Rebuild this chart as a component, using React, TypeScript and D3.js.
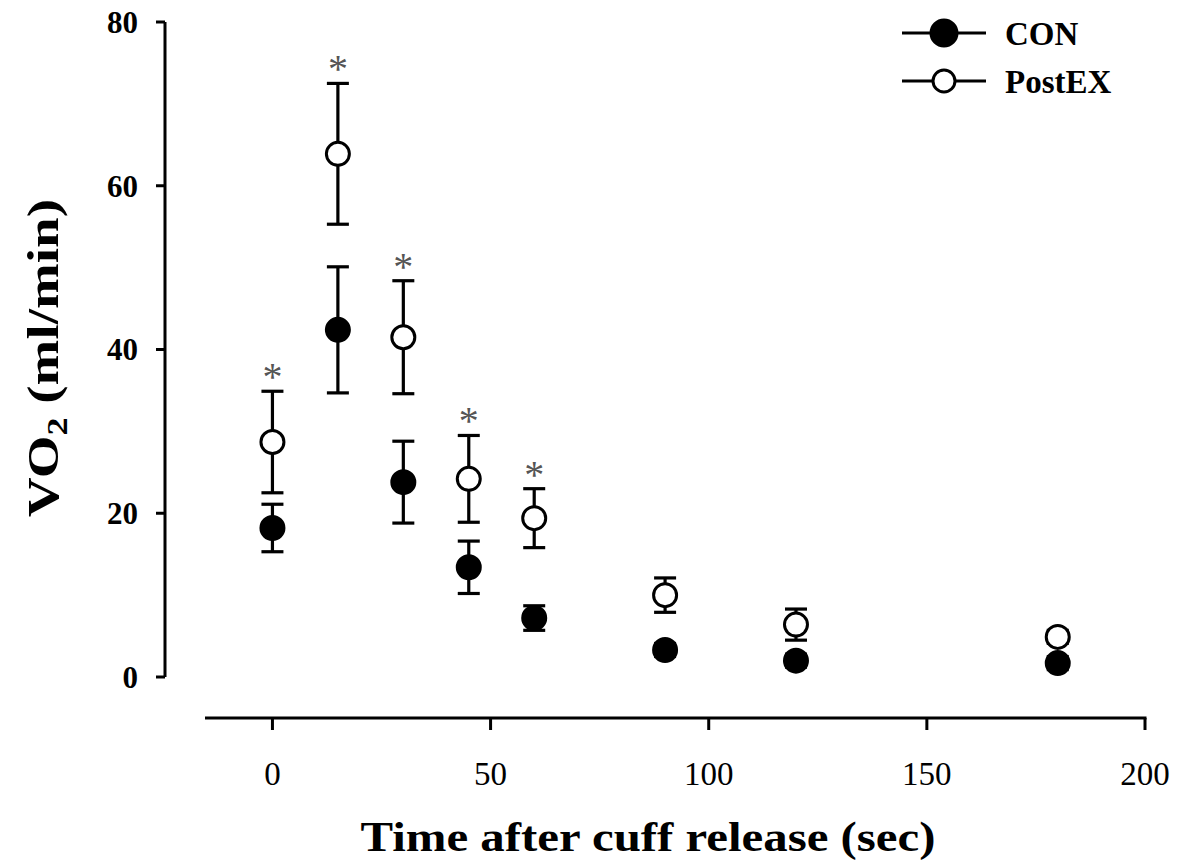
import React from "react";
import * as d3 from "d3";

const times = [0, 15, 30, 45, 60, 90, 120, 180];
const conMean = [18.2, 42.4, 23.8, 13.4, 7.2, 3.3, 2.0, 1.7];
const conSE = [2.9, 7.7, 5.0, 3.2, 1.5, 0.8, 0.8, 0.8];
const postMean = [28.7, 63.9, 41.5, 24.2, 19.4, 10.0, 6.4, 4.9];
const postSE = [6.2, 8.6, 6.9, 5.3, 3.6, 2.1, 1.9, 0.8];
const significant = [true, true, true, true, true, false, false, false];
const xTicks = [0, 50, 100, 150, 200];
const yTicks = [0, 20, 40, 60, 80];

const W = 1177;
const H = 867;
const FONT = "'Liberation Serif', 'DejaVu Serif', serif";

export default function App() {
  const x = d3.scaleLinear().domain([-15, 200]).range([207, 1145]);
  const y = d3.scaleLinear().domain([0, 80]).range([677, 22]);
  const xAxisY = 718;
  const yAxisX = 165;
  const r = 13;
  const capW = 11;

  const series = [
    { name: "PostEX", mean: postMean, se: postSE, fill: "#fff" },
    { name: "CON", mean: conMean, se: conSE, fill: "#000" },
  ];

  return (
    <svg width={W} height={H} style={{ position: "absolute", left: 0, top: 0, background: "#fff" }} fontFamily={FONT}>
      {/* Y axis */}
      <line x1={yAxisX} x2={yAxisX} y1={y(80)} y2={y(0)} stroke="#000" strokeWidth={3} />
      {yTicks.map((t) => (
        <g key={"yt" + t}>
          <line x1={yAxisX - 9} x2={yAxisX} y1={y(t)} y2={y(t)} stroke="#000" strokeWidth={3} />
          <text x={138} y={y(t)} dy="0.35em" textAnchor="end" fontSize={31} fontWeight="bold">{t}</text>
        </g>
      ))}
      <text transform={`translate(58,358) rotate(-90) scale(1.25,1)`} textAnchor="middle" fontSize={44} fontWeight="bold">
        VO<tspan fontSize={29} dy={9}>2</tspan><tspan dy={-9}> (ml/min)</tspan>
      </text>

      {/* X axis */}
      <line x1={x(-15) - 2} x2={x(200) + 1.5} y1={xAxisY} y2={xAxisY} stroke="#000" strokeWidth={3} />
      {xTicks.map((t) => (
        <g key={"xt" + t}>
          <line x1={x(t)} x2={x(t)} y1={xAxisY} y2={xAxisY + 12} stroke="#000" strokeWidth={3} />
          <text x={x(t)} y={785} textAnchor="middle" fontSize={33}>{t}</text>
        </g>
      ))}
      <text x={648} y={851} textAnchor="middle" fontSize={42} fontWeight="bold" textLength={575} lengthAdjust="spacingAndGlyphs">Time after cuff release (sec)</text>

      {/* Data */}
      {series.map((s) => (
        <g key={s.name}>
          {times.map((t, i) => {
            const cx = x(t);
            const top = y(s.mean[i] + s.se[i]);
            const bot = y(s.mean[i] - s.se[i]);
            return (
              <g key={i}>
                <line x1={cx} x2={cx} y1={top} y2={bot} stroke="#000" strokeWidth={3.2} />
                <line x1={cx - capW} x2={cx + capW} y1={top} y2={top} stroke="#000" strokeWidth={3.2} />
                <line x1={cx - capW} x2={cx + capW} y1={bot} y2={bot} stroke="#000" strokeWidth={3.2} />
              </g>
            );
          })}
          {times.map((t, i) => (
            <circle key={"c" + i} cx={x(t)} cy={y(s.mean[i])} r={r - 1.5} fill={s.fill} stroke="#000" strokeWidth={3} />
          ))}
        </g>
      ))}

      {/* Significance */}
      {times.map((t, i) =>
        significant[i] ? (
          <text key={"s" + i} x={x(t)} y={y(postMean[i] + postSE[i]) - 1} textAnchor="middle" fontSize={40} fill="#555">*</text>
        ) : null
      )}

      {/* Legend */}
      {[{ name: "CON", fill: "#000", yy: 33 }, { name: "PostEX", fill: "#fff", yy: 81 }].map((l) => (
        <g key={l.name}>
          <line x1={902} x2={986} y1={l.yy} y2={l.yy} stroke="#000" strokeWidth={3} />
          <circle cx={944} cy={l.yy} r={l.fill === "#000" ? 13 : 11} fill={l.fill} stroke="#000" strokeWidth={3} />
          <text x={1005} y={l.yy} dy="0.35em" fontSize={33} fontWeight="bold">{l.name}</text>
        </g>
      ))}
    </svg>
  );
}
